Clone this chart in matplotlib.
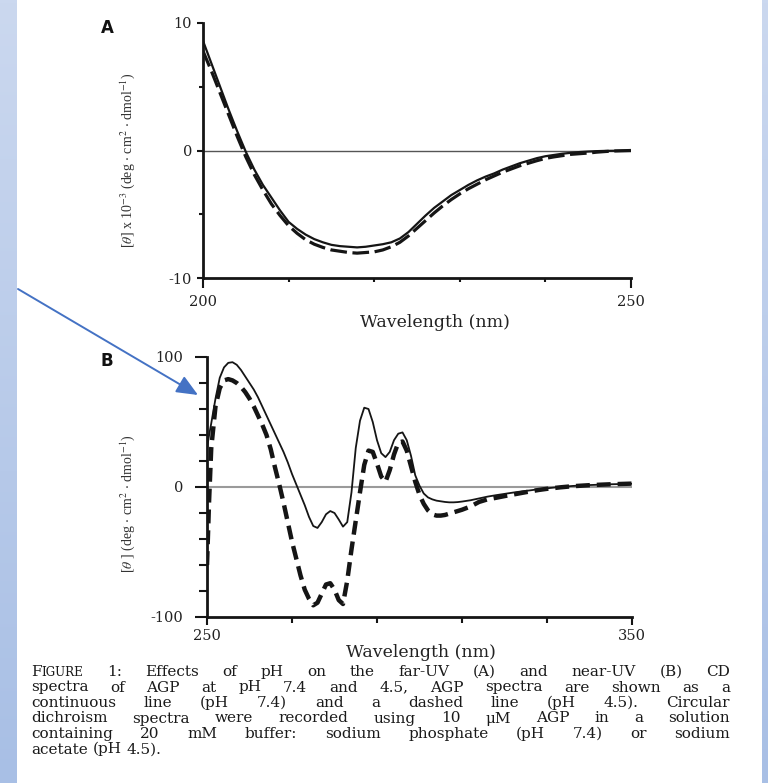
import numpy as np
import matplotlib
matplotlib.use("Agg")
import matplotlib.pyplot as plt
from matplotlib.ticker import FixedLocator
from matplotlib.colors import LinearSegmentedColormap

# ---- data ----
# (A) far-UV, wavelength in nm, ellipticity x 10^-3
wl_a = list(range(200, 251))
a_ph74 = [8.6, 6.8, 5.0, 3.2, 1.5, -0.1, -1.5, -2.7, -3.7, -4.7,
          -5.6, -6.15, -6.6, -6.95, -7.2, -7.4, -7.5, -7.55, -7.6, -7.55,
          -7.45, -7.35, -7.2, -6.9, -6.4, -5.75, -5.1, -4.5, -4.0, -3.5,
          -3.1, -2.7, -2.35, -2.05, -1.8, -1.5, -1.25, -1.0, -0.8, -0.6,
          -0.45, -0.35, -0.25, -0.18, -0.12, -0.08, -0.05, -0.03, -0.02, -0.01,
          0.0]
a_ph45 = [7.8, 6.2, 4.5, 2.8, 1.1, -0.5, -1.9, -3.1, -4.2, -5.1,
          -5.9, -6.5, -7.0, -7.35, -7.6, -7.8, -7.9, -8.0, -8.05, -8.0,
          -7.95, -7.8, -7.55, -7.2, -6.7, -6.1, -5.5, -4.9, -4.35, -3.85,
          -3.4, -3.0, -2.65, -2.3, -2.0, -1.7, -1.45, -1.2, -1.0, -0.8,
          -0.62, -0.5, -0.4, -0.3, -0.25, -0.2, -0.13, -0.08, -0.04, -0.02,
          0.0]

# (B) near-UV
wl_b = [250, 250.5] + list(range(251, 311)) + [312, 314, 316, 318, 320, 322, 324, 326,
                                               328, 330, 333, 336, 340, 345, 350]
b_ph74 = [30, 40, 49, 68, 84, 92, 95.5, 96, 94, 90, 85,
          80, 75, 69, 62, 55, 48, 41, 34, 27, 19,
          10, 2, -6, -14, -23, -30, -31.5, -27, -21, -18.5,
          -20, -25, -30.5, -27, -4, 30, 51, 61, 60, 50,
          36, 26, 23, 27, 36, 41, 42, 36, 24, 9,
          1, -5, -8, -9.5, -10.5, -11, -11.5, -11.8, -11.8, -11.6,
          -11.2, -10.2, -8.8, -7.4, -6.3, -5.3, -4.3, -3.4, -2.6, -1.7,
          -1.0, 0.0, 0.8, 1.5, 2.1, 2.5]
b_ph45 = [-60, -10, 30, 62, 76, 82, 83, 82, 80, 77, 73,
          68, 62, 55, 48, 40, 29, 15, 2, -12, -27,
          -42, -55, -68, -79, -86, -91, -89, -82, -75, -74,
          -79, -87, -90, -72, -48, -26, -4, 17, 28, 27,
          18, 8, 4, 13, 25, 34, 35, 28, 16, 4,
          -6, -13, -18, -21, -22, -22, -21.5, -20.5, -19.5, -18.5,
          -17.5, -15, -11.5, -9.5, -8.3, -7, -5.8, -4.6, -3.4, -2.3,
          -1.4, -0.3, 0.6, 1.4, 2.1, 2.6]

caption = [
    "FIGURE 1:  Effects of pH on the far-UV (A) and near-UV (B) CD",
    "spectra of AGP at pH 7.4 and 4.5, AGP spectra are shown as a",
    "continuous line (pH 7.4) and a dashed line (pH 4.5). Circular",
    "dichroism spectra were recorded using 10 \u03bcM AGP in a solution",
    "containing 20 mM buffer:  sodium phosphate (pH 7.4) or sodium",
    "acetate (pH 4.5).",
]

W, H = 768, 783
plt.rcParams["lines.scale_dashes"] = False
plt.rcParams["mathtext.fontset"] = "stix"
plt.rcParams["font.family"] = "DejaVu Serif"

fig = plt.figure(figsize=(W / 100, H / 100), dpi=100)
fig.patch.set_facecolor("white")


def px_box(x0, y_top, x1, y_bot):
    return [x0 / W, 1 - y_bot / H, (x1 - x0) / W, (y_bot - y_top) / H]


# light blue slide borders
grad = np.linspace(0, 1, 256).reshape(-1, 1)
band_cmap = LinearSegmentedColormap.from_list("band", ["#cbd8ef", "#a8bfe5"])
for box in ([0, 0, 17 / W, 1], [762 / W, 0, 6 / W, 1]):
    bax = fig.add_axes(box)
    bax.imshow(grad, aspect="auto", cmap=band_cmap)
    bax.axis("off")

axA = fig.add_axes(px_box(203, 23, 631, 278))
axB = fig.add_axes(px_box(207, 357, 632, 617))

ink = "#151515"

# panel A
axA.axhline(0, color="#555555", lw=1.0, zorder=1)
axA.plot(wl_a, a_ph74, color=ink, lw=1.6, zorder=3)
axA.plot(wl_a, a_ph45, color=ink, lw=2.3, dashes=(12, 4), zorder=2)
axA.set_xlim(200, 250)
axA.set_ylim(-10, 10)

# panel B
axB.axhline(0, color="#9a9a9a", lw=1.5, zorder=1)
axB.plot(wl_b, b_ph74, color=ink, lw=1.3, zorder=3)
axB.plot(wl_b, b_ph45, color=ink, lw=3.2, dashes=(10, 5), zorder=2)
axB.set_xlim(250, 350)
axB.set_ylim(-100, 100)

for ax in (axA, axB):
    for s in ("top", "right"):
        ax.spines[s].set_visible(False)
    for s in ("left", "bottom"):
        ax.spines[s].set_linewidth(2.0)
        ax.spines[s].set_color(ink)
    ax.tick_params(which="both", direction="out", color=ink, width=1.5,
                   labelsize=10.5, labelcolor="#222222")

axA.set_xticks([200, 250])
axA.set_xticklabels(["200", "250"])
axA.xaxis.set_minor_locator(FixedLocator([210, 220, 230, 240]))
axA.set_yticks([-10, 0, 10])
axA.set_yticklabels(["-10", "0", "10"])
axA.yaxis.set_minor_locator(FixedLocator([-5, 5]))
axA.tick_params(axis="x", which="major", length=7, pad=5)
axA.tick_params(axis="x", which="minor", length=3)
axA.tick_params(axis="y", which="major", length=4.5, pad=3.5)
axA.tick_params(axis="y", which="minor", length=3)

axB.set_xticks([250, 350])
axB.set_xticklabels(["250", "350"])
axB.xaxis.set_minor_locator(FixedLocator([270, 290, 310, 330]))
axB.set_yticks([-100, 0, 100])
axB.set_yticklabels(["-100", "0", "100"])
axB.yaxis.set_minor_locator(FixedLocator([-80, -60, -40, -20, 20, 40, 60, 80]))
axB.tick_params(axis="x", which="major", length=6, pad=3)
axB.tick_params(axis="x", which="minor", length=4)
axB.tick_params(axis="y", which="major", length=9, pad=8)
axB.tick_params(axis="y", which="minor", length=6)

lab_kw = dict(family="Liberation Serif", fontsize=10, color="#333333")
axA.set_ylabel(r"[$\theta$] x 10$^{-3}$ (deg $\cdot$ cm$^{2}$ $\cdot$ dmol$^{-1}$)", **lab_kw)
axA.yaxis.set_label_coords(-0.154, 0.463)
axB.set_ylabel(r"[$\theta$ ] (deg $\cdot$ cm$^{2}$ $\cdot$ dmol$^{-1}$)", **lab_kw)
axB.yaxis.set_label_coords(-0.165, 0.438)

axA.set_xlabel("Wavelength (nm)", fontsize=12.5, color="#222222")
axA.xaxis.set_label_coords(0.542, -0.141)
axB.set_xlabel("Wavelength (nm)", fontsize=12.5, color="#222222")
axB.xaxis.set_label_coords(0.504, -0.104)

fig.text(107 / W, 1 - 28 / H, "A", family="DejaVu Sans", weight="bold",
         fontsize=12, ha="center", va="center", color="#111111")
fig.text(107 / W, 1 - 361 / H, "B", family="DejaVu Sans", weight="bold",
         fontsize=12, ha="center", va="center", color="#111111")

# blue arrow pointing at panel B
axB.annotate("", xy=(198, H - 395), xycoords="figure pixels",
             xytext=(18, H - 289), textcoords="figure pixels",
             arrowprops=dict(arrowstyle="-|>,head_length=0.65,head_width=0.28",
                             mutation_scale=20, color="#4472C4", lw=1.4,
                             shrinkA=0, shrinkB=0),
             annotation_clip=False)

# justified caption
cap_font = "DejaVu Serif"
cap_size = 11
cap_left, cap_right = 31, 730
baselines = [676, 691.5, 707, 722.5, 738, 753.5]
renderer = fig.canvas.get_renderer()


def text_w(s, size):
    t = fig.text(0, 0, s, fontsize=size, family=cap_font)
    w = t.get_window_extent(renderer).width
    t.remove()
    return w


space_w = text_w("a a", cap_size) - text_w("aa", cap_size)
for i, line in enumerate(caption):
    words = []
    for wd in line.split():
        if wd == "FIGURE":
            words.append([("F", cap_size), ("IGURE", cap_size * 0.78)])
        else:
            words.append([(wd, cap_size)])
    widths = [sum(text_w(s, sz) for s, sz in wd) for wd in words]
    if i < len(caption) - 1:
        gap = (cap_right - cap_left - sum(widths)) / (len(words) - 1)
    else:
        gap = space_w
    x = cap_left
    for wd, wdt in zip(words, widths):
        xx = x
        for s, sz in wd:
            fig.text(xx / W, 1 - baselines[i] / H, s, fontsize=sz, family=cap_font,
                     ha="left", va="baseline", color="#1a1a1a")
            xx += text_w(s, sz)
        x += wdt + gap

fig.savefig("out.png", dpi=100)
